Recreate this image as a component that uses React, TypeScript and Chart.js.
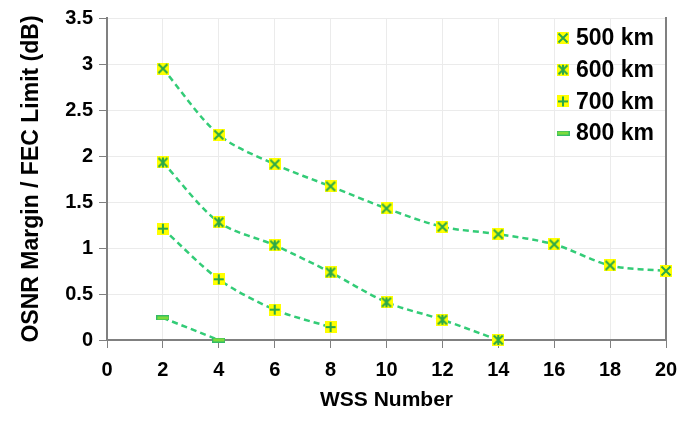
import React, { useEffect, useRef } from "react";
import { Chart, registerables } from "chart.js";

Chart.register(...registerables);

const wss = [2, 4, 6, 8, 10, 12, 14, 16, 18, 20];
const labels500 = "500 km";
const labels600 = "600 km";
const labels700 = "700 km";
const labels800 = "800 km";
const km500 = [2.95, 2.23, 1.91, 1.67, 1.43, 1.23, 1.15, 1.04, 0.81, 0.75];
const km600 = [1.93, 1.28, 1.03, 0.735, 0.41, 0.22, 0.0];
const km700 = [1.21, 0.66, 0.33, 0.14];
const km800 = [0.24, 0.0];
const yTicksMax = 3.5;
const yStep = 0.5;
const xMax = 20;
const xStep = 2;

const FONT = "Arial, 'Liberation Sans', sans-serif";
const LINE = "#33cc77";
const MARK = "#2aa84a";

function makeMarker(kind: string): HTMLCanvasElement {
  const c = document.createElement("canvas");
  const s = 12;
  c.width = s;
  c.height = s;
  const g = c.getContext("2d")!;
  if (kind === "dash") {
    const cc = document.createElement("canvas");
    cc.width = 13;
    cc.height = 5;
    const q = cc.getContext("2d")!;
    q.fillStyle = "#7cdc3c";
    q.fillRect(0.5, 0.5, 12, 4);
    q.strokeStyle = "#33bb66";
    q.lineWidth = 1;
    q.strokeRect(0.5, 0.5, 12, 4);
    return cc;
  }
  g.fillStyle = "#ffff00";
  g.fillRect(0, 0, s, s);
  g.strokeStyle = MARK;
  g.lineWidth = 2;
  g.beginPath();
  const a = 1.5, b = s - 1.5, m = s / 2;
  if (kind === "x" || kind === "star") {
    g.moveTo(a, a); g.lineTo(b, b);
    g.moveTo(b, a); g.lineTo(a, b);
  }
  if (kind === "star") {
    g.moveTo(m, 1); g.lineTo(m, s - 1);
  }
  if (kind === "plus") {
    g.moveTo(m, 1); g.lineTo(m, s - 1);
    g.moveTo(1, m); g.lineTo(s - 1, m);
  }
  g.stroke();
  return c;
}

function pts(vals: number[]) {
  return vals.map((v, i) => ({ x: wss[i], y: v }));
}

const legendPlugin = {
  id: "insideLegend",
  afterDraw(chart: any) {
    const ctx = chart.ctx;
    const area = chart.chartArea;
    ctx.save();
    ctx.font = `bold 23px ${FONT}`;
    ctx.textBaseline = "middle";
    ctx.textAlign = "left";
    ctx.fillStyle = "#000";
    chart.data.datasets.forEach((ds: any, i: number) => {
      const y = area.top + 20 + i * 31.7;
      const img = ds.pointStyle as HTMLCanvasElement;
      const mx = area.right - 103;
      ctx.drawImage(img, mx - img.width / 2, y - img.height / 2);
      ctx.fillText(ds.label, area.right - 90, y + 1);
    });
    ctx.restore();
  },
};

export default function App() {
  const ref = useRef<HTMLCanvasElement>(null);
  useEffect(() => {
    const mk = (label: string, vals: number[], kind: string) => ({
      label,
      data: pts(vals),
      borderColor: LINE,
      borderWidth: 2.5,
      borderDash: [6, 4],
      tension: 0.3,
      pointStyle: makeMarker(kind),
      pointRadius: 7,
      clip: false as any,
      fill: false,
    });
    const chart = new Chart(ref.current!, {
      type: "line",
      data: {
        datasets: [
          mk(labels500, km500, "x"),
          mk(labels600, km600, "star"),
          mk(labels700, km700, "plus"),
          mk(labels800, km800, "dash"),
        ],
      },
      plugins: [legendPlugin],
      options: {
        animation: false,
        responsive: false,
        layout: { padding: { top: 15, left: 0, right: 0, bottom: 0 } },
        plugins: { legend: { display: false }, tooltip: { enabled: false } },
        scales: {
          x: {
            type: "linear",
            min: 0,
            max: xMax,
            ticks: { stepSize: xStep, color: "#000", font: { family: FONT, size: 20, weight: "bold" }, padding: 10 },
            grid: { color: "#ebebeb", tickColor: "#808080", tickLength: 8, lineWidth: 1 },
            border: { color: "#808080", width: 2 },
            title: { display: true, text: "WSS Number", color: "#000", font: { family: FONT, size: 21, weight: "bold" }, padding: { top: 4, bottom: 22 } },
            afterFit: (s: any) => { s.height = 95; },
          },
          y: {
            min: 0,
            max: yTicksMax,
            ticks: { stepSize: yStep, color: "#000", font: { family: FONT, size: 20, weight: "bold" }, padding: 6, callback: (v: any) => String(v) },
            grid: { color: "#ebebeb", tickColor: "#808080", tickLength: 8, lineWidth: 1 },
            border: { color: "#808080", width: 2 },
            title: { display: true, text: "OSNR Margin / FEC Limit (dB)", color: "#000", font: { family: FONT, size: 23, weight: "bold" }, padding: { top: 18, bottom: 4 } },
            afterFit: (s: any) => { s.width = 107; },
          },
          yr: {
            position: "right",
            min: 0,
            max: yTicksMax,
            ticks: { display: false },
            grid: { drawOnChartArea: false, drawTicks: false },
            border: { color: "#808080", width: 2 },
            afterFit: (s: any) => { s.width = 25; },
          },
        },
      } as any,
    });
    return () => chart.destroy();
  }, []);
  return (
    <div style={{ position: "fixed", left: 0, top: 0, width: 691, height: 435, background: "#fff" }}>
      <canvas ref={ref} width={691} height={435} />
    </div>
  );
}
